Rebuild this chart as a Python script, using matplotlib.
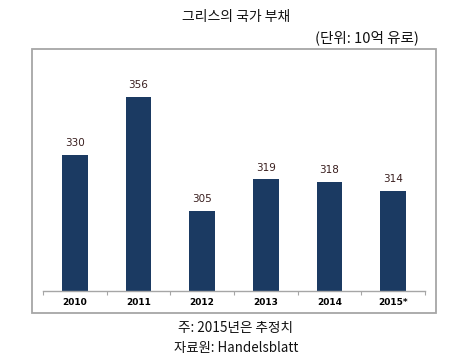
import matplotlib
matplotlib.use("Agg")
import matplotlib.pyplot as plt
from matplotlib.patches import Rectangle

plt.rcParams['font.family'] = ['Noto Sans CJK KR', 'DejaVu Sans']

years = ["2010", "2011", "2012", "2013", "2014", "2015*"]
debt = [330, 356, 305, 319, 318, 314]

W, H = 458, 364
fig = plt.figure(figsize=(W / 100, H / 100), dpi=100)

def fx(px):
    return px / W

def fy(py):
    return 1 - py / H

# outer frame
fig.patches.append(Rectangle((fx(32), fy(313)), fx(436) - fx(32), fy(49) - fy(313),
                             transform=fig.transFigure, fill=False,
                             edgecolor="#a6a6a6", linewidth=1.3))

ax = fig.add_axes([fx(43), fy(291), fx(425) - fx(43), fy(49) - fy(291)])
x = list(range(len(years)))
bars = ax.bar(x, debt, width=0.4, color="#1b3a62", zorder=2)
ax.set_xlim(-0.5, len(years) - 0.5)
ax.set_ylim(269, 377.5)
for xi, v in zip(x, debt):
    ax.text(xi, v + 3, str(v), ha="center", va="bottom", fontsize=7.5,
            color="#3a1f1f", family=['DejaVu Sans'])

for s in ["top", "left", "right"]:
    ax.spines[s].set_visible(False)
ax.spines["bottom"].set_color("#a6a6a6")
ax.spines["bottom"].set_linewidth(1.0)
ax.set_yticks([])
ax.set_xticks([i - 0.5 for i in range(len(years) + 1)], minor=False)
ax.set_xticklabels([])
ax.tick_params(axis="x", which="major", length=3, color="#a6a6a6", width=0.8)
ax.set_xticks(x, minor=True)
ax.set_xticklabels(years, minor=True, fontsize=6.5, fontweight="bold", family=['DejaVu Sans'])
ax.tick_params(axis="x", which="minor", length=0, pad=5)

fig.text(fx(236), fy(17), "그리스의 국가 부채", ha="center", va="center", fontsize=10, color="#111111")
fig.text(fx(419), fy(38), "(단위: 10억 유로)", ha="right", va="center", fontsize=10.5, color="#111111")
fig.text(fx(236), fy(328), "주: 2015년은 추정치", ha="center", va="center", fontsize=9.8, color="#111111")
fig.text(fx(236), fy(348), "자료원: Handelsblatt", ha="center", va="center", fontsize=9.6, color="#111111")

fig.savefig("out.png", dpi=100)
